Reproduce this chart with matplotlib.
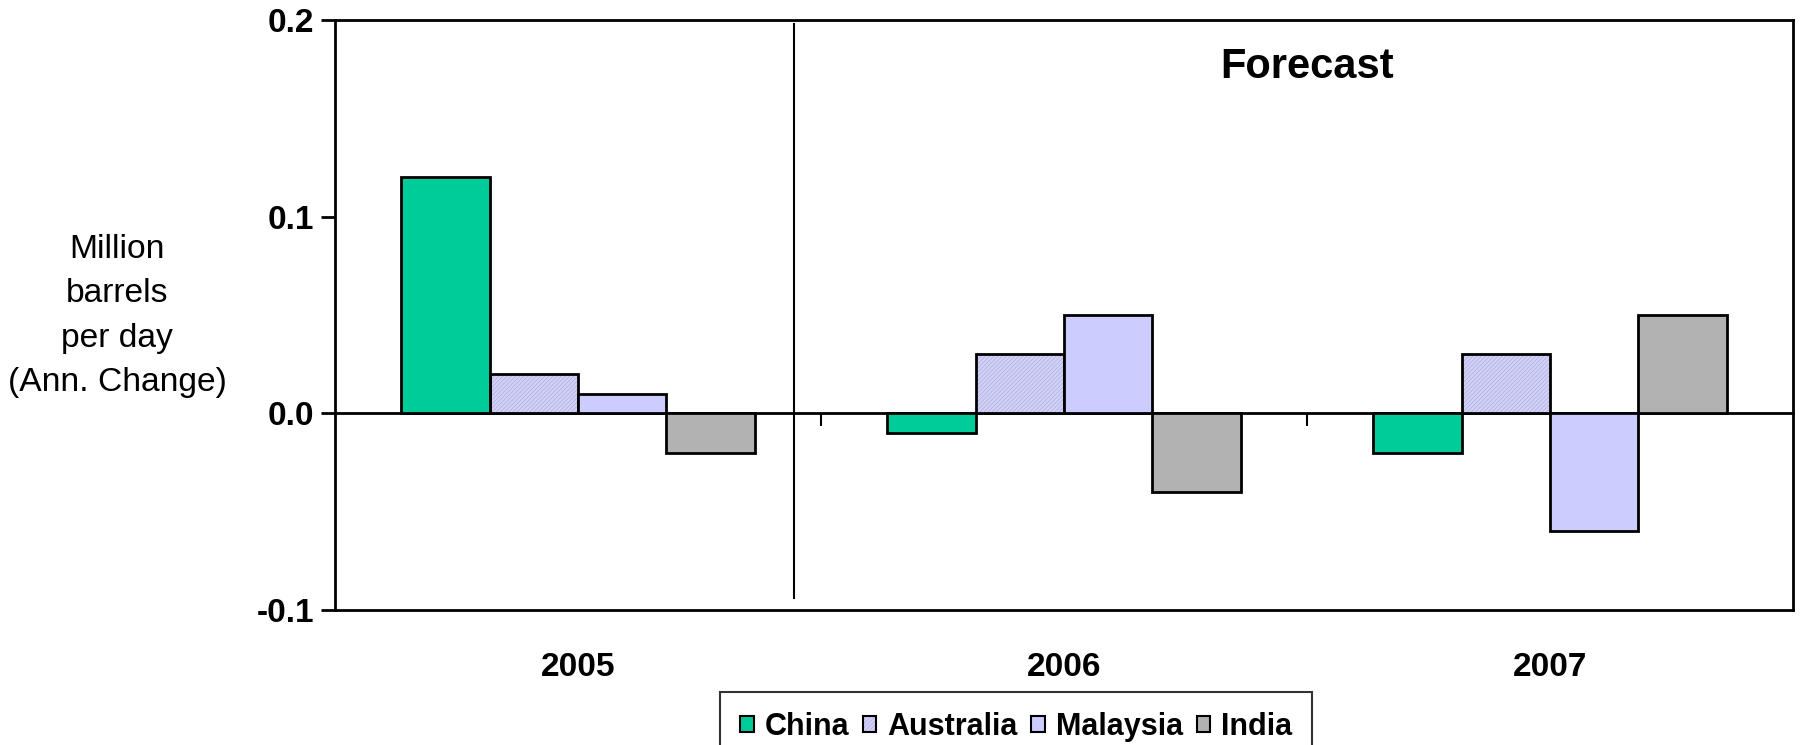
import numpy as np
import matplotlib
matplotlib.use("Agg")
import matplotlib.pyplot as plt
from matplotlib.patches import Patch

plt.rcParams['font.family'] = ['Liberation Sans', 'DejaVu Sans']
plt.rcParams['hatch.linewidth'] = 0.5

years = ["2005", "2006", "2007"]
countries = ["China", "Australia", "Malaysia", "India"]
china = [0.12, -0.01, -0.02]
australia = [0.02, 0.03, 0.03]
malaysia = [0.01, 0.05, -0.06]
india = [-0.02, -0.04, 0.05]
series = [china, australia, malaysia, india]

colors = ["#00cc99", "#d2d2f6", "#ccccff", "#b2b2b2"]
hatches = [None, "////////", None, None]
hatch_color = "#adade0"

yticks = [-0.1, 0.0, 0.1, 0.2]
ytick_labels = ["-0.1", "0.0", "0.1", "0.2"]

fig = plt.figure(figsize=(18, 7.45), dpi=100)
ax = fig.add_axes([335 / 1800, 1 - 610 / 745, (1793 - 335) / 1800, (610 - 20) / 745])

x = np.arange(len(years))
width = 1 / 5.5
offsets = (np.arange(4) - 1.5) * width

handles = []
for vals, off, col, hat in zip(series, offsets, colors, hatches):
    if hat:
        ax.bar(x + off, vals, width, color=col, edgecolor=hatch_color,
               hatch=hat, linewidth=0, zorder=2)
        ax.bar(x + off, vals, width, fill=False, edgecolor="black",
               linewidth=2, zorder=3)
        h = (Patch(facecolor=col, edgecolor=hatch_color, hatch=hat, linewidth=0),
             Patch(fill=False, edgecolor="black", linewidth=1.5))
    else:
        ax.bar(x + off, vals, width, color=col, edgecolor="black",
               linewidth=2, zorder=3)
        h = Patch(facecolor=col, edgecolor="black", linewidth=1.5)
    handles.append(h)

ax.set_xlim(-0.5, 2.5)
ax.set_ylim(-0.1, 0.2)

ax.set_yticks(yticks)
ax.set_yticklabels(ytick_labels, fontsize=24, fontweight="bold")
ax.tick_params(axis="y", direction="out", length=10, width=2, pad=5)

ax.set_xticks(x)
ax.set_xticklabels(years, fontsize=24, fontweight="bold")
ax.tick_params(axis="x", length=0, pad=30)

for s in ax.spines.values():
    s.set_linewidth(2)

# zero line with ticks at category boundaries
sec = ax.secondary_xaxis(1 / 3)
sec.set_xticks([0.5, 1.5])
sec.set_xticklabels(["", ""])
sec.tick_params(axis="x", direction="out", length=9, width=1.5)
sec.spines["bottom"].set_linewidth(2)

# divider between actual and forecast years
ax.plot([0.445, 0.445], [-0.094, 0.198], color="black", linewidth=1.5, zorder=4)
ax.text(1.5, 0.176, "Forecast", fontsize=30, fontweight="bold",
        ha="center", va="center")

fig.text(117 / 1800, 1 - 316 / 745, "Million\nbarrels\nper day\n(Ann. Change)",
         fontsize=24.2, ha="center", va="center", linespacing=1.55)

leg = fig.legend(handles, countries, loc="upper center",
                 bbox_to_anchor=(1016 / 1800, 1 - 692 / 745), ncol=4,
                 prop={"size": 22, "weight": "bold"}, frameon=True,
                 fancybox=False, edgecolor="black", handlelength=0.45,
                 handleheight=0.45, handletextpad=0.35, columnspacing=0.45,
                 borderpad=0.65, borderaxespad=0)
leg.get_frame().set_linewidth(1.5)

fig.savefig("out.png", dpi=100)
